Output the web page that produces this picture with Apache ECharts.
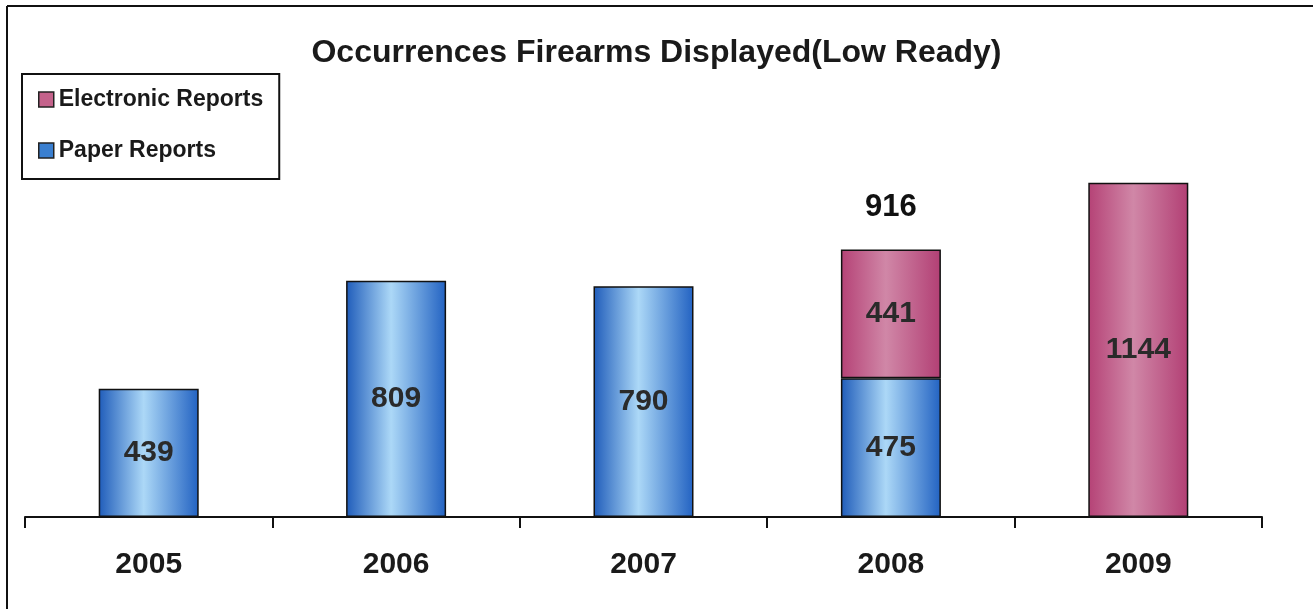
<!DOCTYPE html>
<html>
<head>
<meta charset="utf-8">
<script src="https://cdn.jsdelivr.net/npm/echarts@6/dist/echarts.min.js"></script>
<style>
  html, body { margin: 0; padding: 0; background: #fff; }
  #chart { width: 1313px; height: 609px; }
</style>
</head>
<body>
<div id="chart"></div>
<script>
// Yearly occurrences where firearms were displayed (low ready)
const years = ['2005', '2006', '2007', '2008', '2009'];
const paperReports = [439, 809, 790, 475, null];
const electronicReports = [null, null, null, 441, 1144];
const totals = [null, null, null, 916, null];

const FONT = '"Liberation Sans", Arial, Helvetica, sans-serif';

function barGradient(edgeL, mid, edgeR) {
  return new echarts.graphic.LinearGradient(0, 0, 1, 0, [
    { offset: 0, color: edgeL },
    { offset: 0.45, color: mid },
    { offset: 1, color: edgeR }
  ]);
}

const blueFill = barGradient('#1f5cba', '#acd8f7', '#2262c2');
const pinkFill = barGradient('#b54276', '#d087a7', '#b23f74');

const chart = echarts.init(document.getElementById('chart'), null, { renderer: 'canvas' });

const valueLabel = {
  show: true,
  position: 'inside',
  fontFamily: FONT,
  fontWeight: 'bold',
  fontSize: 30,
  color: '#2a2a2a'
};

chart.setOption({
  backgroundColor: '#ffffff',
  animation: false,
  title: {
    text: 'Occurrences Firearms Displayed(Low Ready)',
    left: 'center',
    top: 32,
    textStyle: { fontFamily: FONT, fontWeight: 'bold', fontSize: 32, color: '#1a1a1a' }
  },
  legend: {
    orient: 'vertical',
    left: 22,
    top: 74,
    padding: [14, 16, 17, 16],
    itemGap: 28,
    itemWidth: 15,
    itemHeight: 15,
    borderColor: '#111',
    borderWidth: 2,
    textStyle: { fontFamily: FONT, fontWeight: 'bold', fontSize: 23, lineHeight: 22, color: '#1a1a1a' },
    data: [
      { name: 'Electronic Reports', icon: 'rect', itemStyle: { color: '#c4628b', borderColor: '#222', borderWidth: 1.5 } },
      { name: 'Paper Reports', icon: 'rect', itemStyle: { color: '#3a7fd0', borderColor: '#222', borderWidth: 1.5 } }
    ]
  },
  grid: { left: 25, right: 51, top: 108, bottom: 92, containLabel: false },
  xAxis: {
    type: 'category',
    data: years,
    boundaryGap: true,
    axisLine: { lineStyle: { color: '#111', width: 2 } },
    axisTick: { show: true, length: 11, lineStyle: { color: '#111', width: 2 } },
    axisLabel: { margin: 33, fontFamily: FONT, fontWeight: 'bold', fontSize: 30, color: '#1a1a1a' }
  },
  yAxis: {
    type: 'value',
    min: 0,
    max: 1400,
    show: false,
    splitLine: { show: false }
  },
  series: [
    {
      name: 'Paper Reports',
      type: 'bar',
      stack: 'reports',
      barWidth: 100,
      data: paperReports,
      itemStyle: { color: blueFill, borderColor: '#111', borderWidth: 1.5 },
      label: valueLabel
    },
    {
      name: 'Electronic Reports',
      type: 'bar',
      stack: 'reports',
      barWidth: 100,
      data: electronicReports,
      itemStyle: { color: pinkFill, borderColor: '#111', borderWidth: 1.5 },
      label: valueLabel
    },
    {
      // stacked total shown above the 2008 column
      name: 'Total',
      type: 'scatter',
      data: totals,
      symbolSize: 0,
      silent: true,
      itemStyle: { color: '#111', opacity: 1 },
      label: {
        show: true,
        position: 'top',
        distance: 26,
        fontFamily: FONT,
        fontWeight: 'bold',
        fontSize: 31,
        color: '#111111'
      }
    }
  ],
  graphic: [
    { type: 'line', shape: { x1: 7, y1: 6, x2: 1313, y2: 6 }, style: { stroke: '#111', lineWidth: 2 } },
    { type: 'line', shape: { x1: 7, y1: 6, x2: 7, y2: 609 }, style: { stroke: '#111', lineWidth: 2 } }
  ]
});
</script>
</body>
</html>
